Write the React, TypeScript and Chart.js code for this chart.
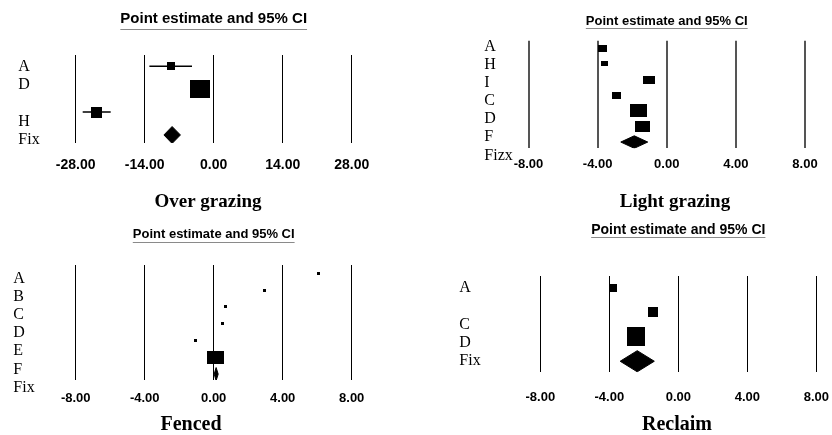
import React, { useEffect, useRef } from "react";
import { Chart, registerables } from "chart.js";

Chart.register(...registerables);
Chart.defaults.font.family = "'Liberation Sans', Arial, sans-serif";
Chart.defaults.color = "#000";

// ---------- Panel 1: Over grazing ----------
const labels1 = ["A", "D", "", "H", "Fix"];
const est1 = [-8.75, -2.86, -23.74];
const lo1 = [-13.05, null, -26.58];
const hi1 = [-4.4, null, -20.9];
const boxW1 = [8, 20, 11];
const boxH1 = [8, 18, 11];
const fix1 = [-8.44, -10.1, -6.75]; // estimate, lower, upper
const ticks1 = [-28, -14, 0, 14, 28];

// ---------- Panel 2: Light grazing ----------
const labels2 = ["A", "H", "I", "C", "D", "F", "Fizx"];
const est2 = [-3.74, -3.62, -1.0, -2.92, -1.66, -1.39];
const lo2: (number | null)[] = [];
const hi2: (number | null)[] = [];
const boxW2 = [9, 7, 12, 9, 17, 15];
const boxH2 = [7, 5, 8, 7, 13, 11];
const fix2 = [-1.88, -2.66, -1.1];
const ticks2 = [-8, -4, 0, 4, 8];

// ---------- Panel 3: Fenced ----------
const labels3 = ["A", "B", "C", "D", "E", "F", "Fix"];
const est3 = [6.09, 2.96, 0.68, 0.49, -1.04, 0.1];
const lo3: (number | null)[] = [];
const hi3: (number | null)[] = [];
const boxW3 = [3, 3, 3, 3, 3, 17];
const boxH3 = [3, 3, 3, 3, 3, 13];
const fix3 = [0.14, 0.03, 0.26];
const ticks3 = [-8, -4, 0, 4, 8];

// ---------- Panel 4: Reclaim ----------
const labels4 = ["A", "", "C", "D", "Fix"];
const est4 = [-3.76, -1.48, -2.46];
const lo4: (number | null)[] = [];
const hi4: (number | null)[] = [];
const boxW4 = [8, 10, 18];
const boxH4 = [8, 10, 19];
const fix4 = [-2.38, -3.37, -1.39];
const ticks4 = [-8, -4, 0, 4, 8];

const TITLE = "Point estimate and 95% CI";

type Layout = {
  box: [number, number, number, number];
  padL: number; chartL: number; chartR: number; chartT: number; chartB: number;
  titleY: number; titleSize: number; underlineY: number;
  tickY: number; tickSize: number;
  captionX: number; captionBase: number; captionSize: number;
  labelSize: number;
  rowMin: number; rowMax: number; lblMin: number; lblMax: number;
  diamondHalf: number; gridColor: string; gridWidth: number;
};

type Spec = {
  labels: string[]; est: number[]; lo: (number | null)[]; hi: (number | null)[];
  boxW: number[]; boxH: number[]; fix: number[]; ticks: number[];
  caption: string; lay: Layout;
};

const specs: Spec[] = [
  {
    labels: labels1, est: est1, lo: lo1, hi: hi1, boxW: boxW1, boxH: boxH1, fix: fix1, ticks: ticks1,
    caption: "Over grazing",
    lay: {
      box: [0, 0, 416, 220], padL: 18.3, chartL: 75.7, chartR: 351.7, chartT: 55, chartB: 143,
      titleY: 18.7, titleSize: 15, underlineY: 28.5, tickY: 165.5, tickSize: 14,
      captionX: 208, captionBase: 206.5, captionSize: 19, labelSize: 16,
      rowMin: -0.49, rowMax: 3.35, lblMin: -0.638, lblMax: 4.158, diamondHalf: 0.37,
      gridColor: "#000", gridWidth: 1,
    },
  },
  {
    labels: labels2, est: est2, lo: lo2, hi: hi2, boxW: boxW2, boxH: boxH2, fix: fix2, ticks: ticks2,
    caption: "Light grazing",
    lay: {
      box: [416, 0, 416, 220], padL: 68.3, chartL: 112.5, chartR: 389, chartT: 40.7, chartB: 148.3,
      titleY: 21.2, titleSize: 13, underlineY: 28.3, tickY: 164.2, tickSize: 13,
      captionX: 259, captionBase: 207, captionSize: 19, labelSize: 16,
      rowMin: -0.49, rowMax: 6.4, lblMin: -0.316, lblMax: 5.61, diamondHalf: 0.4,
      gridColor: "#555", gridWidth: 2,
    },
  },
  {
    labels: labels3, est: est3, lo: lo3, hi: hi3, boxW: boxW3, boxH: boxH3, fix: fix3, ticks: ticks3,
    caption: "Fenced",
    lay: {
      box: [0, 220, 416, 215], padL: 13.3, chartL: 75.7, chartR: 351.7, chartT: 45, chartB: 160,
      titleY: 14.7, titleSize: 13, underlineY: 21.7, tickY: 178, tickSize: 13,
      captionX: 191, captionBase: 210, captionSize: 20, labelSize: 16,
      rowMin: -0.49, rowMax: 6.35, lblMin: -0.756, lblMax: 5.59, diamondHalf: 0.39,
      gridColor: "#000", gridWidth: 1,
    },
  },
  {
    labels: labels4, est: est4, lo: lo4, hi: hi4, boxW: boxW4, boxH: boxH4, fix: fix4, ticks: ticks4,
    caption: "Reclaim",
    lay: {
      box: [416, 220, 416, 215], padL: 43.3, chartL: 124.3, chartR: 400.3, chartT: 56, chartB: 152.3,
      titleY: 10, titleSize: 14, underlineY: 17.3, tickY: 177.5, tickSize: 13,
      captionX: 261, captionBase: 210, captionSize: 20, labelSize: 16,
      rowMin: -0.47, rowMax: 3.45, lblMin: -0.66, lblMax: 4.63, diamondHalf: 0.43,
      gridColor: "#000", gridWidth: 1,
    },
  },
];

function makeBox(w: number, h: number) {
  const c = document.createElement("canvas");
  c.width = w;
  c.height = h;
  const g = c.getContext("2d")!;
  g.fillStyle = "#000";
  g.fillRect(0, 0, w, h);
  return c;
}

function Panel({ spec }: { spec: Spec }) {
  const ref = useRef<HTMLCanvasElement>(null);
  const L = spec.lay;
  const [bx, by, bw, bh] = L.box;

  useEffect(() => {
    const canvas = ref.current!;
    const n = spec.est.length;
    const squares = spec.est.map((v, i) => ({ x: v, y: i }));
    const images = spec.est.map((_, i) => makeBox(spec.boxW[i], spec.boxH[i]));
    const whiskers: { x: number; y: number }[] = [];
    spec.lo.forEach((lo, i) => {
      const hi = spec.hi[i];
      if (lo != null && hi != null) {
        whiskers.push({ x: lo, y: i }, { x: hi, y: i }, { x: NaN, y: NaN });
      }
    });
    const [fe, fl, fh] = spec.fix;
    const d = L.diamondHalf;
    const diamond = [
      { x: fl, y: n },
      { x: fe, y: n - d },
      { x: fh, y: n },
      { x: fe, y: n + d },
      { x: fl, y: n },
    ];

    const titleLH = L.titleSize * 1.2;
    const tickLH = L.tickSize * 1.2;

    const decor = {
      id: "decor",
      afterDraw(chart: any) {
        const ctx = chart.ctx;
        ctx.save();
        const tb = chart.titleBlock;
        const cx = (tb.left + tb.right) / 2;
        ctx.font = `bold ${L.titleSize}px 'Liberation Sans', Arial, sans-serif`;
        const w = ctx.measureText(TITLE).width;
        ctx.strokeStyle = "#8a8a8a";
        ctx.lineWidth = 1;
        ctx.beginPath();
        ctx.moveTo(cx - w / 2, Math.round(L.underlineY) + 0.5);
        ctx.lineTo(cx + w / 2, Math.round(L.underlineY) + 0.5);
        ctx.stroke();
        ctx.font = `bold ${L.captionSize}px 'Liberation Serif', 'Times New Roman', serif`;
        ctx.fillStyle = "#000";
        ctx.textAlign = "center";
        ctx.textBaseline = "alphabetic";
        ctx.fillText(spec.caption, L.captionX, L.captionBase);
        ctx.restore();
      },
    };

    const chart = new Chart(canvas, {
      type: "scatter",
      data: {
        datasets: [
          {
            type: "scatter",
            data: squares,
            pointStyle: images as any,
            pointRadius: 3,
            pointHoverRadius: 3,
            backgroundColor: "#000",
            borderColor: "#000",
            xAxisID: "x",
            yAxisID: "y",
          } as any,
          {
            type: "line",
            data: diamond,
            showLine: true,
            fill: "shape",
            backgroundColor: "#000",
            borderColor: "#000",
            borderWidth: 1,
            pointRadius: 0,
            tension: 0,
            xAxisID: "x",
            yAxisID: "y",
          } as any,
          {
            type: "line",
            data: whiskers,
            showLine: true,
            fill: false,
            spanGaps: false,
            borderColor: "#000",
            borderWidth: 1.5,
            pointRadius: 0,
            tension: 0,
            xAxisID: "x",
            yAxisID: "y",
          } as any,
        ],
      },
      options: {
        responsive: false,
        maintainAspectRatio: false,
        animation: false,
        devicePixelRatio: 1,
        events: [],
        layout: { padding: { left: L.padL, right: bw - L.chartR, top: 0, bottom: 0 } },
        plugins: {
          legend: { display: false },
          tooltip: { enabled: false },
          title: {
            display: true,
            text: TITLE,
            fullSize: false,
            align: "center",
            color: "#000",
            font: { size: L.titleSize, weight: "bold", lineHeight: 1.2 },
            padding: { top: L.titleY - titleLH / 2, bottom: L.chartT - L.titleY - titleLH / 2 },
          },
        },
        scales: {
          x: {
            type: "linear",
            position: "bottom",
            min: spec.ticks[0],
            max: spec.ticks[spec.ticks.length - 1],
            afterBuildTicks: (s: any) => {
              s.ticks = spec.ticks.map((v) => ({ value: v }));
            },
            afterFit: (s: any) => {
              s.height = bh - L.chartB;
            },
            ticks: {
              autoSkip: false,
              maxRotation: 0,
              padding: 0,
              font: { size: L.tickSize, weight: "bold", lineHeight: 1.2 },
              color: "#000",
              callback: (v: any) => Number(v).toFixed(2),
            },
            grid: {
              color: L.gridColor,
              lineWidth: L.gridWidth,
              drawTicks: true,
              tickLength: L.tickY - L.chartB - tickLH / 2,
              tickColor: "rgba(0,0,0,0)",
            },
            border: { display: false },
          },
          y: {
            type: "linear",
            display: false,
            reverse: true,
            min: L.rowMin,
            max: L.rowMax,
          },
          y2: {
            type: "linear",
            position: "left",
            reverse: true,
            min: L.lblMin,
            max: L.lblMax,
            afterBuildTicks: (s: any) => {
              s.ticks = spec.labels.map((_, i) => ({ value: i }));
            },
            afterFit: (s: any) => {
              s.width = L.chartL - L.padL;
            },
            ticks: {
              autoSkip: false,
              crossAlign: "far",
              padding: 0,
              color: "#000",
              font: { family: "'Liberation Serif', 'Times New Roman', serif", size: L.labelSize },
              callback: (v: any) => spec.labels[Math.round(Number(v))] ?? "",
            },
            grid: { display: false },
            border: { display: false },
          },
        } as any,
      },
      plugins: [decor],
    } as any);
    return () => chart.destroy();
  }, []);

  return (
    <canvas
      ref={ref}
      width={bw}
      height={bh}
      style={{ position: "absolute", left: bx, top: by, width: bw, height: bh }}
    />
  );
}

export default function App() {
  return (
    <div style={{ position: "absolute", left: 0, top: 0, width: 832, height: 435, background: "#fff" }}>
      {specs.map((s, i) => (
        <Panel key={i} spec={s} />
      ))}
    </div>
  );
}
